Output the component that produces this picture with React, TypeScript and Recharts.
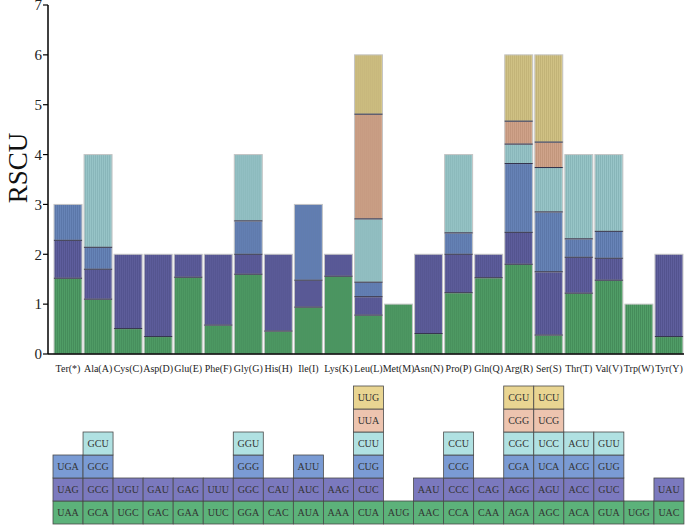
import React from 'react';
import { BarChart, Bar, XAxis, YAxis, LabelList } from 'recharts';

const aminoAcids = ['Ter(*)','Ala(A)','Cys(C)','Asp(D)','Glu(E)','Phe(F)','Gly(G)','His(H)','Ile(I)','Lys(K)','Leu(L)','Met(M)','Asn(N)','Pro(P)','Gln(Q)','Arg(R)','Ser(S)','Thr(T)','Val(V)','Trp(W)','Tyr(Y)'];

const codons1 = ['UAA','GCA','UGC','GAC','GAA','UUC','GGA','CAC','AUA','AAA','CUA','AUG','AAC','CCA','CAA','AGA','AGC','ACA','GUA','UGG','UAC'];
const codons2 = ['UAG','GCG','UGU','GAU','GAG','UUU','GGC','CAU','AUC','AAG','CUC','','AAU','CCC','CAG','AGG','AGU','ACC','GUC','','UAU'];
const codons3 = ['UGA','GCG','','','','','GGG','','AUU','','CUG','','','CCG','','CGA','UCA','ACG','GUG','',''];
const codons4 = ['','GCU','','','','','GGU','','','','CUU','','','CCU','','CGC','UCC','ACU','GUU','',''];
const codons5 = ['','','','','','','','','','','UUA','','','','','CGG','UCG','','','',''];
const codons6 = ['','','','','','','','','','','UUG','','','','','CGU','UCU','','','',''];

const rscu1 = [1.52,1.10,0.51,0.35,1.54,0.58,1.60,0.46,0.94,1.56,0.78,1.00,0.41,1.23,1.53,1.80,0.38,1.22,1.48,1.00,0.35];
const rscu2 = [0.76,0.60,1.49,1.65,0.46,1.42,0.40,1.54,0.54,0.44,0.37,0,1.59,0.77,0.47,0.64,1.27,0.72,0.44,0,1.65];
const rscu3 = [0.72,0.44,0,0,0,0,0.67,0,1.52,0,0.29,0,0,0.43,0,1.38,1.20,0.37,0.54,0,0];
const rscu4 = [0,1.86,0,0,0,0,1.33,0,0,0,1.27,0,0,1.57,0,0.39,0.89,1.69,1.54,0,0];
const rscu5 = [0,0,0,0,0,0,0,0,0,0,2.10,0,0,0,0,0.46,0.51,0,0,0,0];
const rscu6 = [0,0,0,0,0,0,0,0,0,0,1.19,0,0,0,0,1.33,1.75,0,0,0,0];

const yTicks = [0,1,2,3,4,5,6,7];

const barColors = ['#529f68','#60609f','#6986ba','#9ac7ca','#d2a68d','#d4c588'];
const stripeColors = ['#3d7f50','#4a4a82','#51699a','#7aa7ab','#b3866e','#b1a268'];
const cellColors = ['#5cb27a','#7b79be','#7a9bd4','#b0e1e2','#edc4af','#e9d592'];

const codonRows = [codons1, codons2, codons3, codons4, codons5, codons6];
const rscuRows = [rscu1, rscu2, rscu3, rscu4, rscu5, rscu6];

const barData = aminoAcids.map((aa, i) => {
  const row: any = { name: aa };
  rscuRows.forEach((r, k) => { row['s' + k] = r[i]; });
  return row;
});

const tableData = aminoAcids.map((aa, i) => {
  const row: any = { name: aa };
  codonRows.forEach((c, k) => { row['c' + k] = c[i] ? 1 : 0; row['l' + k] = c[i]; });
  return row;
});

const FONT = '"Liberation Serif", "Times New Roman", serif';

function StripedBar(props: any) {
  const { x, y, width, height, k, index } = props;
  if (!height || height <= 0) return null;
  let isTop = true;
  for (let j = k + 1; j < rscuRows.length; j++) {
    if (rscuRows[j][index] > 0) isTop = false;
  }
  const lines = [];
  for (let sx = x + 1.6; sx < x + width - 0.5; sx += 2) {
    lines.push(<line key={sx} x1={sx} x2={sx} y1={y} y2={y + height} stroke={stripeColors[k]} strokeWidth={0.8} strokeOpacity={0.75} />);
  }
  return (
    <g>
      <rect x={x} y={y} width={width} height={height} fill={barColors[k]} />
      {lines}
      <rect x={x} y={y} width={width} height={height} fill="none" stroke="#c4c4c4" strokeWidth={1} />
      {!isTop ? null : null}
      {k > 0 ? <line x1={x} x2={x + width} y1={y + height} y2={y + height} stroke="#30304a" strokeWidth={1} /> : null}
    </g>
  );
}

function Cell(props: any) {
  const { x, y, width, height, k } = props;
  if (!height || height <= 0) return null;
  return <rect x={x} y={y} width={width} height={height} fill={cellColors[k]} stroke="#4a4a4a" strokeWidth={0.8} />;
}

function XTick(props: any) {
  const { x, y, payload } = props;
  return (
    <text x={x} y={y + 10} textAnchor="middle" fontSize={10} fontFamily={FONT} fill="#222">
      {payload.value}
    </text>
  );
}

export default function App() {
  return (
    <div style={{ position: 'absolute', left: 0, top: 0, width: 685, height: 526, background: '#fff' }}>
      <div style={{ position: 'absolute', left: 0, top: 0 }}>
        <BarChart width={685} height={375} data={barData} margin={{ top: 5, right: 1, bottom: 5, left: 0 }} barCategoryGap={1}>
          <XAxis dataKey="name" height={16} tickLine={false} interval={0} padding={{ left: 5, right: 0 }}
            axisLine={{ stroke: '#000', strokeWidth: 1.5 }} tick={<XTick />} />
          <YAxis domain={[0, 7]} ticks={yTicks} width={48} tickSize={5} tickMargin={1}
            axisLine={{ stroke: '#000', strokeWidth: 1.5 }} tickLine={{ stroke: '#000', strokeWidth: 1.2 }}
            tick={{ fontSize: 15, fontFamily: FONT, fill: '#222' }} interval={0} />
          {rscuRows.map((_, k) => (
            <Bar key={k} dataKey={'s' + k} stackId="a" isAnimationActive={false}
              shape={(p: any) => <StripedBar {...p} k={k} />} />
          ))}
        </BarChart>
        <svg width={40} height={375} style={{ position: 'absolute', left: 0, top: 0 }}>
          <text x={27} y={168} transform="rotate(-90 27 168)" textAnchor="middle" fontSize={27} fontFamily={FONT} fill="#111">RSCU</text>
        </svg>
      </div>
      <div style={{ position: 'absolute', left: 0, top: 375 }}>
        <BarChart width={685} height={151} data={tableData} margin={{ top: 11, right: 1, bottom: 2, left: 48 }} barCategoryGap={0}>
          <XAxis dataKey="name" hide padding={{ left: 5, right: 0 }} />
          <YAxis domain={[0, 6]} hide />
          {codonRows.map((_, k) => (
            <Bar key={k} dataKey={'c' + k} stackId="t" isAnimationActive={false}
              shape={(p: any) => <Cell {...p} k={k} />}>
              <LabelList dataKey={'l' + k} position="center" fontSize={10} fontFamily={FONT} fill="#333" />
            </Bar>
          ))}
        </BarChart>
      </div>
    </div>
  );
}
